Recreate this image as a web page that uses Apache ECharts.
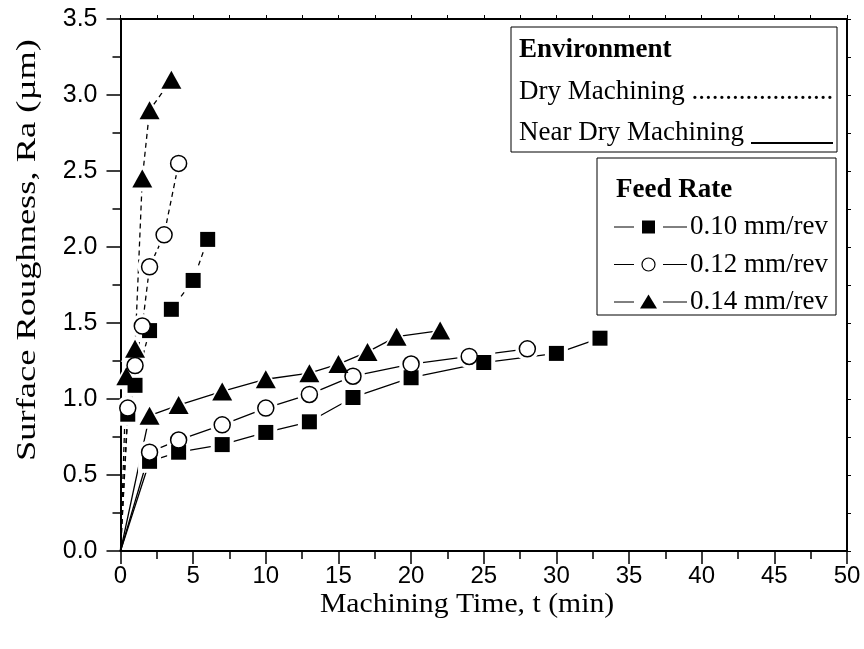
<!DOCTYPE html>
<html lang="en">
<head>
    <meta charset="UTF-8">
    <title>Surface Roughness vs Machining Time</title>
</head>
<body style="margin:0">

    <div id="echarts" style="width: 864px; height: 649px"></div>
    <script src="https://cdn.jsdelivr.net/npm/echarts@6/dist/echarts.min.js"></script>
    <script>
        // near dry machining (solid lines)
        const ndTime10 = [0, 2, 4, 7, 10, 13, 16, 20, 25, 30, 33];
        const ndRa10 = [0, 0.59, 0.65, 0.70, 0.78, 0.85, 1.01, 1.14, 1.24, 1.30, 1.40];
        const ndTime12 = [0, 2, 4, 7, 10, 13, 16, 20, 24, 28];
        const ndRa12 = [0, 0.65, 0.73, 0.83, 0.94, 1.03, 1.15, 1.23, 1.28, 1.33];
        const ndTime14 = [0, 2, 4, 7, 10, 13, 15, 17, 19, 22];
        const ndRa14 = [0, 0.89, 0.96, 1.05, 1.13, 1.17, 1.23, 1.31, 1.41, 1.45];
        // dry machining (dotted lines)
        const dryTime10 = [0, 0.5, 1, 2, 3.5, 5, 6];
        const dryRa10 = [0, 0.90, 1.09, 1.45, 1.59, 1.78, 2.05];
        const dryTime12 = [0, 0.5, 1, 1.5, 2, 3, 4];
        const dryRa12 = [0, 0.94, 1.22, 1.48, 1.87, 2.08, 2.55];
        const dryTime14 = [0, 0.4, 1, 1.5, 2, 3.5];
        const dryRa14 = [0, 1.15, 1.33, 2.45, 2.90, 3.10];

        const feedNames = ['0.10 mm/rev', '0.12 mm/rev', '0.14 mm/rev'];

        const serif = '"Liberation Serif", "Times New Roman", serif';
        const sans = '"Liberation Sans", Arial, sans-serif';

        const marks = [
            { symbol: 'rect', size: 15, fill: '#000' },
            { symbol: 'circle', size: 16, fill: '#fff' },
            { symbol: 'triangle', size: [20, 18], fill: '#000' }
        ];

        function pairs(t, r) {
            return t.map((x, i) => [x, r[i]]);
        }

        function grow(size, d) {
            return Array.isArray(size) ? [size[0] + d, size[1] + d] : size + d;
        }

        const groups = [
            [ndTime10, ndRa10, 0, false],
            [ndTime12, ndRa12, 1, false],
            [ndTime14, ndRa14, 2, false],
            [dryTime10, dryRa10, 0, true],
            [dryTime12, dryRa12, 1, true],
            [dryTime14, dryRa14, 2, true]
        ];

        const series = [];
        groups.forEach(g => {
            const data = pairs(g[0], g[1]);
            const m = marks[g[2]];
            series.push({
                type: 'line',
                data: data,
                symbol: 'none',
                z: 2,
                silent: true,
                lineStyle: { color: '#000', width: 1.3, type: g[3] ? [5, 4] : 'solid' }
            });
            // white halo so the line stops short of the marker
            series.push({
                type: 'scatter',
                data: data.slice(1),
                symbol: m.symbol,
                symbolSize: grow(m.size, 8),
                z: 3,
                silent: true,
                itemStyle: { color: '#fff', opacity: 1 }
            });
            series.push({
                type: 'scatter',
                name: feedNames[g[2]],
                data: data.slice(1),
                symbol: m.symbol,
                symbolSize: m.size,
                z: 4,
                silent: true,
                itemStyle: { color: m.fill, borderColor: '#000', borderWidth: m.fill === '#fff' ? 1.5 : 0, opacity: 1 }
            });
        });

        const axisBase = {
            type: 'value',
            axisLine: { show: true, onZero: false, lineStyle: { color: '#000', width: 2 } },
            splitLine: { show: false },
            minorSplitLine: { show: false }
        };

        // feed rate legend rows
        const legendRows = [];
        feedNames.forEach((name, i) => {
            const y = 227 + i * 37.5;
            legendRows.push({ type: 'line', shape: { x1: 614, y1: y, x2: 634, y2: y }, style: { stroke: '#000', lineWidth: 1 } });
            legendRows.push({ type: 'line', shape: { x1: 663, y1: y, x2: 687, y2: y }, style: { stroke: '#000', lineWidth: 1 } });
            if (i === 0) {
                legendRows.push({ type: 'rect', shape: { x: 642, y: y - 6.5, width: 13, height: 13 }, style: { fill: '#000' } });
            } else if (i === 1) {
                legendRows.push({ type: 'circle', shape: { cx: 648.5, cy: y, r: 6.5 }, style: { fill: '#fff', stroke: '#000', lineWidth: 1.2 } });
            } else {
                legendRows.push({ type: 'polygon', shape: { points: [[648.5, y - 7.5], [640, y + 6.5], [657, y + 6.5]] }, style: { fill: '#000' } });
            }
            legendRows.push({ type: 'text', x: 690, y: y, style: { text: name, font: '27px ' + serif, fill: '#000', textVerticalAlign: 'middle', verticalAlign: 'middle' } });
        });

        const option = {
            backgroundColor: '#fff',
            animation: false,
            grid: { left: 120.5, right: 17, top: 19, bottom: 98 },
            xAxis: [
                Object.assign({}, axisBase, {
                    position: 'bottom',
                    min: 0, max: 50, interval: 5,
                    axisTick: { inside: false, length: 13, lineStyle: { color: '#000', width: 1.5 } },
                    minorTick: { show: true, splitNumber: 2, length: 8, lineStyle: { color: '#000', width: 1.5 } },
                    axisLabel: { color: '#000', fontSize: 24, fontFamily: sans, margin: 13 }
                }),
                Object.assign({}, axisBase, {
                    position: 'top',
                    min: 0, max: 50, interval: 5,
                    axisTick: { inside: false, length: 4, lineStyle: { color: '#000', width: 1 } },
                    minorTick: { show: true, splitNumber: 2, length: 4, lineStyle: { color: '#000', width: 1 } },
                    axisLabel: { show: false }
                })
            ],
            yAxis: [
                Object.assign({}, axisBase, {
                    position: 'left',
                    min: 0, max: 3.5, interval: 0.5,
                    axisTick: { inside: false, length: 14, lineStyle: { color: '#000', width: 1.5 } },
                    minorTick: { show: true, splitNumber: 2, length: 8, lineStyle: { color: '#000', width: 1.5 } },
                    axisLabel: { color: '#000', fontSize: 25, fontFamily: sans, margin: 23, formatter: v => v.toFixed(1) }
                }),
                Object.assign({}, axisBase, {
                    position: 'right',
                    min: 0, max: 3.5, interval: 0.5,
                    axisTick: { inside: false, length: 4, lineStyle: { color: '#000', width: 1 } },
                    minorTick: { show: true, splitNumber: 2, length: 4, lineStyle: { color: '#000', width: 1 } },
                    axisLabel: { show: false }
                })
            ],
            series: series,
            graphic: [
                {
                    type: 'text', x: 467, y: 605, scaleX: 1.1,
                    style: { text: 'Machining Time, t (min)', font: '27px ' + serif, fill: '#000', textAlign: 'center', align: 'center', textVerticalAlign: 'middle', verticalAlign: 'middle' }
                },
                {
                    type: 'text', x: 28, y: 250, rotation: Math.PI / 2, scaleX: 1.35,
                    style: { text: 'Surface Roughness, Ra (\u00b5m)', font: '27px ' + serif, fill: '#000', textAlign: 'center', align: 'center', textVerticalAlign: 'middle', verticalAlign: 'middle' }
                },
                {
                    type: 'group', z: 100,
                    children: [
                        { type: 'rect', shape: { x: 511, y: 27, width: 326, height: 125 }, style: { fill: '#fff', stroke: '#000', lineWidth: 1 } },
                        { type: 'text', x: 519, y: 50, style: { text: 'Environment', font: 'bold 27px ' + serif, fill: '#000', textVerticalAlign: 'middle', verticalAlign: 'middle' } },
                        { type: 'text', x: 519, y: 92, style: { text: 'Dry Machining .....................', font: '27px ' + serif, fill: '#000', textVerticalAlign: 'middle', verticalAlign: 'middle' } },
                        { type: 'text', x: 519, y: 133, style: { text: 'Near Dry Machining', font: '27px ' + serif, fill: '#000', textVerticalAlign: 'middle', verticalAlign: 'middle' } },
                        { type: 'line', shape: { x1: 751, y1: 143, x2: 833, y2: 143 }, style: { stroke: '#000', lineWidth: 2 } },
                        { type: 'rect', shape: { x: 597, y: 158, width: 239, height: 157 }, style: { fill: '#fff', stroke: '#000', lineWidth: 1 } },
                        { type: 'text', x: 616, y: 190, style: { text: 'Feed Rate', font: 'bold 27px ' + serif, fill: '#000', textVerticalAlign: 'middle', verticalAlign: 'middle' } }
                    ].concat(legendRows)
                }
            ]
        };

        var chartDom = document.getElementById("echarts");
        var myChart = echarts.init(chartDom);
        myChart.setOption(option);
    </script>
</body>
</html>
